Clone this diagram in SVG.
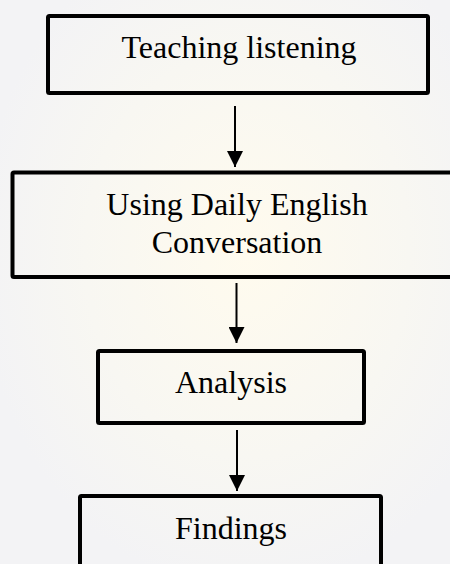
<svg xmlns="http://www.w3.org/2000/svg" width="450" height="564" viewBox="0 0 450 564">
<defs>
<radialGradient id="bg" cx="0.55" cy="0.45" r="0.6">
<stop offset="0" stop-color="#fffbee"/>
<stop offset="0.6" stop-color="#f8f7f2"/>
<stop offset="1" stop-color="#f3f3f5"/>
</radialGradient>
<marker id="ah" viewBox="0 0 16 16" refX="16" refY="8" markerWidth="16" markerHeight="16" markerUnits="userSpaceOnUse" orient="auto">
<path d="M0,0 L16,8 L0,16 Z" fill="#000"/>
</marker>
<style>
.box{fill:none;stroke:#000;stroke-width:4;}
.lbl{font-family:"Liberation Serif","Times New Roman",serif;font-size:32px;fill:#000;text-anchor:middle;}
.conn{stroke:#000;stroke-width:2;fill:none;}
</style>
</defs>
<rect x="0" y="0" width="450" height="564" fill="url(#bg)"/>
<g id="n1">
<rect class="box" x="48" y="16" width="380" height="77" rx="1.5"/>
<text class="lbl" x="239" y="58">Teaching listening</text>
</g>
<g id="n2">
<rect class="box" x="12.5" y="172.5" width="470" height="104.5" rx="1.5"/>
<text class="lbl" x="237" y="215">Using Daily English</text>
<text class="lbl" x="237" y="253">Conversation</text>
</g>
<g id="n3">
<rect class="box" x="98" y="351" width="266" height="72" rx="1.5"/>
<text class="lbl" x="231" y="393">Analysis</text>
</g>
<g id="n4">
<rect class="box" x="80" y="496" width="301" height="100" rx="1.5"/>
<text class="lbl" x="231" y="539">Findings</text>
</g>
<g id="connectors">
<line class="conn" x1="235" y1="106" x2="235" y2="167" marker-end="url(#ah)"/>
<line class="conn" x1="236.5" y1="283" x2="236.5" y2="343" marker-end="url(#ah)"/>
<line class="conn" x1="237" y1="430" x2="237" y2="491" marker-end="url(#ah)"/>
</g>
</svg>
